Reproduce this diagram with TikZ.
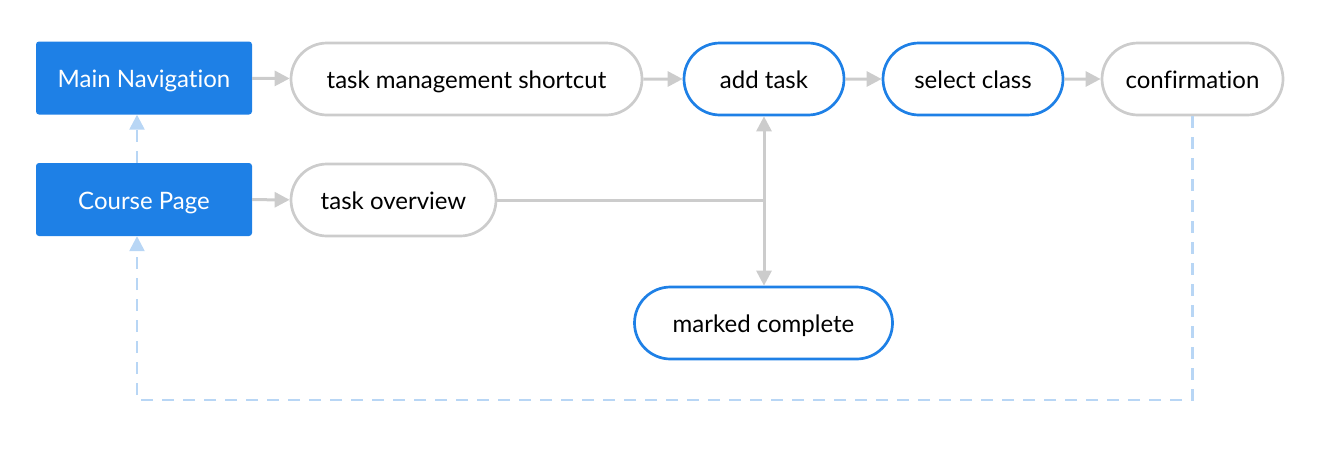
\documentclass[tikz,border=0pt]{standalone}
\usepackage{fontspec}
\setmainfont{Lato}[Ligatures=NoCommon]
\usetikzlibrary{arrows.meta,shapes.misc}
\definecolor{navblue}{HTML}{1E80E6}
\definecolor{edgegray}{HTML}{CCCCCC}
\definecolor{dashblue}{HTML}{B8D6F5}
\begin{document}
\begin{tikzpicture}[x=1pt,y=-1pt,
  txt/.style={font=\fontsize{24}{28}\selectfont,text height=19pt,text depth=0pt},
  navbox/.style={txt,rectangle,fill=navblue,rounded corners=3pt,minimum width=216pt,minimum height=73pt,text=white,inner sep=0pt},
  pill/.style={txt,rounded rectangle,draw=edgegray,line width=2.7pt,fill=white,minimum height=72pt,inner sep=0pt},
  bluepill/.style={pill,draw=navblue},
  gline/.style={draw=edgegray,line width=3pt},
  garrow/.style={gline,-{Triangle[length=15pt,width=15pt]}},
  darrow/.style={draw=dashblue,line width=2.5pt,dash pattern=on 12pt off 9pt,-{Triangle[length=15pt,width=15pt]}}
]
\useasboundingbox (0,0) rectangle (1330,466);
\node[navbox] (mn) at (144,78) {Main Navigation};
\node[navbox] (cp) at (144,199.5) {Course Page};
\node[pill,minimum width=351pt] (tms) at (466.5,79) {task management shortcut};
\node[bluepill,minimum width=160pt] (at) at (764,79) {add task};
\node[bluepill,minimum width=180pt] (sc) at (973,79) {select class};
\node[pill,minimum width=181pt] (cf) at (1192.5,79) {confirmation};
\node[pill,minimum width=205pt] (to) at (393.5,200) {task overview};
\node[bluepill,minimum width=258pt] (mc) at (763.5,323) {marked complete};
\coordinate (j) at (764,200);
\coordinate (dx) at (137,400);
\draw[garrow] (mn) -- (tms);
\draw[garrow] (tms) -- (at);
\draw[garrow] (at) -- (sc);
\draw[garrow] (sc) -- (cf);
\draw[garrow] (cp) -- (to);
\draw[gline] (to.east) -- (j);
\draw[garrow] (j) -- (j |- at.south);
\draw[garrow] (j) -- (j |- mc.north);
\draw[darrow] (cp.north -| dx) -- (mn.south -| dx);
\draw[darrow] (cf.south) |- (dx) -- (cp.south -| dx);
\end{tikzpicture}
\end{document}
